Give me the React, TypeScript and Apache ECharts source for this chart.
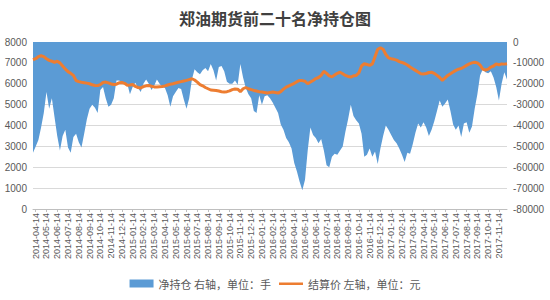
import React, { useEffect, useRef } from "react";
import * as echarts from "echarts";

// x categories: four sampling days per month, labels shown on the 14th
const sampleDays = ["07", "14", "21", "28"];
const firstYear = 2014;
const firstMonth = 4;
const monthCount = 44;
const endDate = "2017-12-07";

const title = "郑油期货前二十名净持仓图";
const positionName = "净持仓 右轴，单位：手";
const priceName = "结算价 左轴，单位：元";

const leftAxis = { min: 0, max: 8000, interval: 1000 };
const rightAxis = { min: -80000, max: 0, interval: 10000 };

// net position of top-20 (right axis, lots)
const netPosition = [
  -53000, -50000, -47000, -41000, -34000, -24000, -32000, -27000, -36000, -45000,
  -52000, -45000, -42000, -50500, -53000, -45500, -44000, -48000, -50500, -44000,
  -37000, -32000, -30000, -31500, -34000, -23000, -21500, -27000, -31000, -30000,
  -27000, -18500, -18500, -19500, -20000, -20000, -25000, -21500, -19500, -22000,
  -24000, -20000, -18000, -20000, -23000, -21000, -18000, -20000, -21500, -22000,
  -25500, -31000, -26000, -24000, -22000, -22500, -27500, -32000, -27000, -18000,
  -13000, -14500, -15500, -13500, -12500, -14000, -10500, -13500, -18500, -12000,
  -11500, -14000, -19000, -20000, -20000, -18500, -20500, -10500, -17000, -22000,
  -25000, -27000, -33000, -34000, -25500, -30000, -26000, -25500, -27000, -29000,
  -31500, -34000, -39500, -42000, -46000, -48000, -51000, -58000, -62000, -67000,
  -71000, -66000, -52000, -41000, -44500, -46000, -48500, -46500, -52000, -59000,
  -60000, -55000, -53500, -54000, -52000, -50000, -43000, -37000, -30000, -35500,
  -37500, -39000, -44000, -55000, -54000, -51000, -55000, -52500, -58500, -51000,
  -45000, -40000, -42000, -44500, -47000, -48500, -51000, -54000, -57500, -53000,
  -53500, -49000, -43500, -39000, -41000, -38500, -41000, -45000, -42000, -38000,
  -33000, -28000, -31000, -29500, -27500, -33000, -39500, -42000, -40000, -45500,
  -39000, -38500, -43500, -40500, -32000, -25000, -16000, -13000, -14500, -15000,
  -14000, -17000, -21500, -28000, -20000, -14500, -18000,
];

// settlement price (left axis, yuan)
const settlePrice = [
  7150, 7200, 7300, 7340, 7300, 7200, 7120, 7080, 7020, 7080,
  7000, 6850, 6700, 6580, 6500, 6400, 6150, 6100, 6070, 6050,
  6030, 6000, 5950, 5920, 5910, 5960, 6060, 6080, 6040, 5990,
  5960, 5980, 6050, 6060, 6020, 5930, 5940, 5960, 5870, 5820,
  5800, 5860, 5900, 5920, 5880, 5850, 5840, 5860, 5870, 5900,
  5940, 5980, 6000, 6040, 6070, 6100, 6130, 6160, 6200, 6240,
  6180, 6080, 5960, 5900, 5820, 5760, 5700, 5690, 5680, 5650,
  5620, 5600, 5620, 5660, 5720, 5750, 5740, 5620, 5760, 5820,
  5760, 5720, 5680, 5650, 5620, 5600, 5580, 5560, 5580, 5600,
  5580, 5550, 5620, 5740, 5840, 5900, 5960, 6020, 6100, 6160,
  6150, 6120, 6000, 6080, 6160, 6250, 6300, 6400, 6600, 6500,
  6380, 6330, 6420, 6500, 6550, 6480, 6400, 6350, 6320, 6380,
  6400, 6520, 6850, 6960, 6920, 6880, 6950, 7300, 7650, 7720,
  7650, 7400, 7240, 7200, 7170, 7130, 7060, 7020, 6970, 6900,
  6800, 6720, 6640, 6560, 6480, 6470, 6490, 6540, 6550, 6500,
  6400, 6300, 6160, 6280, 6400, 6480, 6560, 6640, 6700, 6730,
  6800, 6880, 6950, 7000, 7030, 7000, 6900, 6700, 6650, 6700,
  6800, 6850, 6950, 6900, 6950, 6940, 6960,
];

function buildDates(): string[] {
  const out: string[] = [];
  for (let m = 0; m < monthCount; m++) {
    const total = firstMonth - 1 + m;
    const y = firstYear + Math.floor(total / 12);
    const mo = (total % 12) + 1;
    const mm = mo < 10 ? "0" + mo : String(mo);
    for (const d of sampleDays) out.push(`${y}-${mm}-${d}`);
  }
  out.push(endDate);
  return out;
}

const dates = buildDates();

// thin horizontal bar inside an 24x8 box (tiny corner specks keep the box size)
const lineIcon =
  "path://M0,3 L24,3 L24,5.4 L0,5.4 Z M0,0 L0.01,0 L0.01,0.01 Z M24,8 L23.99,8 L23.99,7.99 Z";

export default function App() {
  const ref = useRef<HTMLDivElement>(null);
  useEffect(() => {
    if (!ref.current) return;
    const chart = echarts.init(ref.current, undefined, { renderer: "svg" });
    const isLabel = (_i: number, v: string) => v.endsWith("-14");
    const axisText = {
      color: "#595959",
      fontSize: 10,
      fontFamily: "Liberation Sans, Arial, sans-serif",
      formatter: (v: number) => String(v),
    };
    chart.setOption({
      animation: false,
      backgroundColor: "#ffffff",
      title: {
        text: title,
        left: "center",
        top: 5,
        textStyle: {
          fontSize: 16,
          fontWeight: "bold",
          color: "#404040",
          fontFamily: "Noto Sans CJK SC",
        },
      },
      legend: {
        bottom: 6,
        left: "center",
        itemGap: 8,
        itemWidth: 24,
        itemHeight: 8,
        textStyle: { fontSize: 11, color: "#595959", fontFamily: "Noto Sans CJK SC" },
        data: [
          { name: positionName, icon: "rect" },
          { name: priceName, icon: lineIcon },
        ],
      },
      grid: { left: 33, right: 43, top: 42, bottom: 91, containLabel: false },
      xAxis: {
        type: "category",
        data: dates,
        boundaryGap: false,
        axisLine: { lineStyle: { color: "#bfbfbf" } },
        axisTick: { show: true, interval: isLabel, length: 3, lineStyle: { color: "#bfbfbf" } },
        axisLabel: {
          interval: isLabel,
          rotate: 90,
          margin: 4,
          color: "#595959",
          fontSize: 9,
          fontFamily: "Liberation Sans, Arial, sans-serif",
        },
        splitLine: { show: false },
      },
      yAxis: [
        {
          type: "value",
          min: leftAxis.min,
          max: leftAxis.max,
          interval: leftAxis.interval,
          axisLine: { show: false },
          axisTick: { show: false },
          axisLabel: { ...axisText, margin: 6 },
          splitLine: { lineStyle: { color: "#d9d9d9" } },
        },
        {
          type: "value",
          min: rightAxis.min,
          max: rightAxis.max,
          interval: rightAxis.interval,
          position: "right",
          axisLine: { show: false },
          axisTick: { show: false },
          axisLabel: { ...axisText, margin: 6 },
          splitLine: { show: false },
        },
      ],
      series: [
        {
          name: positionName,
          type: "line",
          yAxisIndex: 1,
          data: netPosition,
          symbol: "none",
          lineStyle: { width: 0, color: "#5B9BD5" },
          itemStyle: { color: "#5B9BD5" },
          areaStyle: { color: "#5B9BD5", opacity: 1 },
          z: 1,
        },
        {
          name: priceName,
          type: "line",
          yAxisIndex: 0,
          data: settlePrice,
          symbol: "none",
          lineStyle: { width: 3, color: "#ED7D31" },
          itemStyle: { color: "#ED7D31" },
          z: 3,
        },
      ],
    });
    return () => chart.dispose();
  }, []);
  return (
    <div
      ref={ref}
      style={{ position: "absolute", left: 0, top: 0, width: 550, height: 300 }}
    />
  );
}
